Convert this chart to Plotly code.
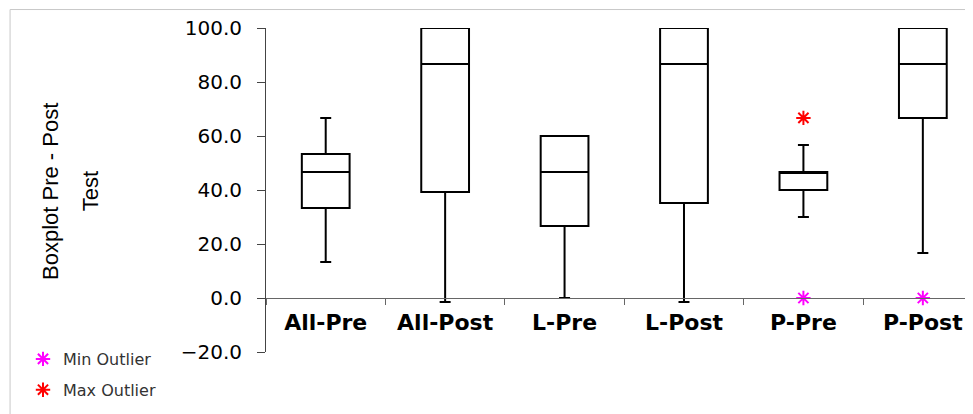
import plotly.graph_objects as go

# ---- data ----
categories = ["All-Pre", "All-Post", "L-Pre", "L-Post", "P-Pre", "P-Post"]
lower_whisker = [13.3, -1.5, 0.0, -1.5, 30.0, 16.7]
q1_values = [33.3, 39.3, 26.7, 35.2, 40.0, 66.7]
median_values = [46.7, 86.7, 46.7, 86.7, 46.7, 86.7]
q3_values = [53.3, 100.0, 60.0, 100.0, 46.7, 100.0]
upper_whisker = [66.7, 100.0, 60.0, 100.0, 56.7, 100.0]

min_outlier_cats = ["P-Pre", "P-Post"]
min_outlier_vals = [0.0, 0.0]
max_outlier_cats = ["P-Pre"]
max_outlier_vals = [66.7]

y_ticks = [-20, 0, 20, 40, 60, 80, 100]

fig = go.Figure()

fig.add_trace(go.Box(
    x=categories,
    q1=q1_values,
    median=median_values,
    q3=q3_values,
    lowerfence=lower_whisker,
    upperfence=upper_whisker,
    width=0.4,
    whiskerwidth=0.23,
    fillcolor="white",
    line=dict(color="black", width=2),
    boxpoints=False,
    showlegend=False,
    hoverinfo="skip",
))

fig.add_trace(go.Scatter(
    x=min_outlier_cats, y=min_outlier_vals, mode="markers",
    name="Min Outlier", legendgroup="min",
    marker=dict(symbol="asterisk-open", size=12, color="#ff00ff",
                line=dict(color="#ff00ff", width=2)),
))
fig.add_trace(go.Scatter(
    x=max_outlier_cats, y=max_outlier_vals, mode="markers",
    name="Max Outlier", legendgroup="max",
    marker=dict(symbol="asterisk-open", size=12, color="#ff0000",
                line=dict(color="#ff0000", width=2)),
))

fig.update_layout(
    width=973, height=414,
    margin=dict(l=257.7, r=8, t=19.7, b=70.3, autoexpand=False),
    paper_bgcolor="white", plot_bgcolor="white",
    font=dict(family="DejaVu Sans, Liberation Sans, Arial", color="black"),
    showlegend=True,
    legend=dict(
        xref="container", yref="container",
        x=15 / 973, y=(414 - 334) / 414, xanchor="left", yanchor="top",
        bgcolor="rgba(0,0,0,0)", tracegroupgap=7,
        font=dict(family="DejaVu Sans, Liberation Sans, Arial", size=16, color="#333333"),
        traceorder="grouped", itemwidth=30,
    ),
    xaxis=dict(
        type="category",
        categoryorder="array", categoryarray=categories,
        range=[-0.5, 5.42],
        anchor="free", position=1/6,
        automargin=False,
        showline=True, linecolor="#666666", linewidth=1,
        ticks="outside", tickson="boundaries", ticklen=6, tickcolor="#666666",
        showgrid=False, zeroline=False,
        ticklabelstandoff=5,
        tickfont=dict(family="DejaVu Sans, Liberation Sans, Arial", size=22, weight="bold"),
    ),
    yaxis=dict(
        range=[-20, 100],
        tickvals=y_ticks, tickformat=".1f",
        automargin=False,
        showline=True, linecolor="#444444", linewidth=1,
        ticks="outside", ticklen=8, tickcolor="#444444",
        showgrid=False, zeroline=False,
        ticklabelstandoff=11,
        tickfont=dict(family="DejaVu Sans, Liberation Sans, Arial", size=20),
    ),
    shapes=[dict(type="rect", xref="paper", yref="paper",
                 x0=-0.362, x1=1.05, y0=-0.5, y1=1.057,
                 line=dict(color="#c8c8c8", width=1), fillcolor="rgba(0,0,0,0)",
                 layer="below")],
    annotations=[
        dict(text="Boxplot Pre - Post", textangle=-90, xref="paper", yref="paper",
             x=-0.3045, y=0.496, showarrow=False, xanchor="center", yanchor="middle",
             font=dict(family="Liberation Sans, Arial", size=22, color="black")),
        dict(text="Test", textangle=-90, xref="paper", yref="paper",
             x=-0.249, y=0.496, showarrow=False, xanchor="center", yanchor="middle",
             font=dict(family="Liberation Sans, Arial", size=22, color="black")),
    ],
)

fig.write_html("out.html")
